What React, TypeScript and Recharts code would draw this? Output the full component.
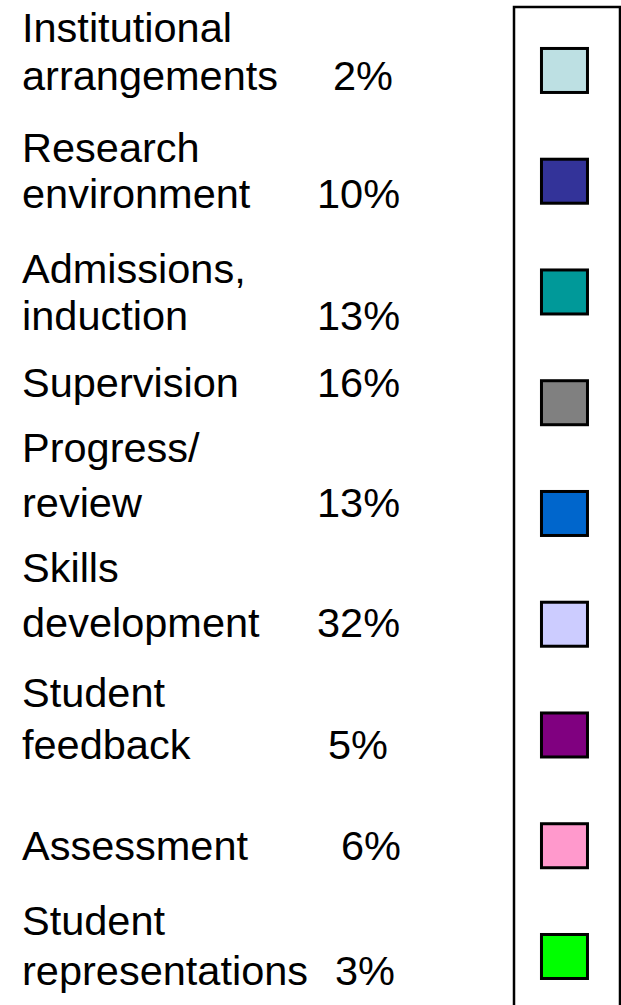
import { ScatterChart, Scatter, XAxis, YAxis, Cell, ReferenceArea } from 'recharts'

// legend of the PGR survey pie: share of comments per area
const categories = [
  'Institutional arrangements',
  'Research environment',
  'Admissions, induction',
  'Supervision',
  'Progress/ review',
  'Skills development',
  'Student feedback',
  'Assessment',
  'Student representations',
]
const labelLines = [
  ['Institutional', 'arrangements'],
  ['Research', 'environment'],
  ['Admissions,', 'induction'],
  ['Supervision'],
  ['Progress/', 'review'],
  ['Skills', 'development'],
  ['Student', 'feedback'],
  ['Assessment'],
  ['Student', 'representations'],
]
const shares = [2, 10, 13, 16, 13, 32, 5, 6, 3]
const colors = [
  '#bde0e3',
  '#333399',
  '#009999',
  '#808080',
  '#0066cc',
  '#ccccff',
  '#800080',
  '#ff99cc',
  '#00ff00',
]

const data = categories.map((name, i) => ({ name, x: 0.5, y: i, share: shares[i] }))

// text boxes sit a little off the swatch rows, as in the slide
const lineOffsets = [
  [-28.5, 19.5],
  [-19, 27],
  [-9, 38],
  [-6],
  [-51.5, 3.5],
  [-42, 13],
  [-28, 24],
  [14],
  [-21.5, 28.5],
]
const pctX = [333, 317, 317, 317, 317, 317, 328, 341, 335]

const font = '"Liberation Sans", Arial, sans-serif'

function LabelTick(props: any) {
  const { y, payload } = props
  const i = payload.value as number
  const lines = labelLines[i]
  const offs = lineOffsets[i]
  const last = offs[offs.length - 1]
  return (
    <g>
      {lines.map((line, k) => (
        <text key={k} x={22} y={y + offs[k]} fontSize={41.5} fontFamily={font} fill="#000">
          {line}
        </text>
      ))}
      <text x={pctX[i]} y={y + last} fontSize={41.5} fontFamily={font} fill="#000">
        {`${shares[i]}%`}
      </text>
    </g>
  )
}

function Swatch(props: any) {
  const { cx, cy, fill } = props
  return <rect x={cx - 23} y={cy - 22} width={46} height={44} fill={fill} stroke="#000" strokeWidth={3} />
}

export default function App() {
  return (
    <div style={{ position: 'absolute', left: 0, top: 0, background: '#fff' }}>
      <ScatterChart width={621} height={1005} margin={{ top: 7, right: 1, bottom: 0, left: 0 }}>
        <XAxis type="number" dataKey="x" domain={[0, 1.05]} hide />
        <YAxis
          type="number"
          dataKey="y"
          domain={[-0.573, 8.438]}
          reversed
          allowDataOverflow
          ticks={[0, 1, 2, 3, 4, 5, 6, 7, 8]}
          interval={0}
          width={514}
          tickLine={false}
          axisLine={false}
          tick={<LabelTick />}
        />
        <ReferenceArea
          x1={0}
          x2={1.05}
          y1={-0.573}
          y2={9}
          fill="none"
          stroke="#000"
          strokeWidth={2.5}
          ifOverflow="visible"
        />
        <Scatter data={data} shape={<Swatch />} isAnimationActive={false}>
          {data.map((entry, index) => (
            <Cell key={`cell-${index}`} fill={colors[index]} />
          ))}
        </Scatter>
      </ScatterChart>
    </div>
  )
}
